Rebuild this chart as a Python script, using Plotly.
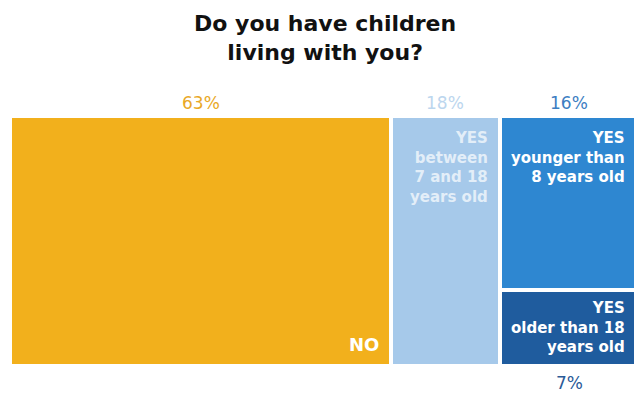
import plotly.graph_objects as go

# ─── Data ────────────────────────────────────────────────────────────────────
groups = ["NO", "YES 7-18", "YES <8", "YES >18"]
shares = [63, 18, 16, 7]
column = [0, 1, 2, 2]          # which column of the mosaic each group sits in
inner_text = [
    "NO",
    "YES<br>between<br>7 and 18<br>years old",
    "YES<br>younger than<br>8 years old",
    "YES<br>older than 18<br>years old",
]
pct_labels = ["63%", "18%", "16%", "7%"]

# ─── Styles ──────────────────────────────────────────────────────────────────
FILL = ["#F2B01C", "#A6C9EA", "#2E87D1", "#1F5C9E"]
PCT_COLOR = ["#E9A826", "#BCD6EE", "#3C7EC2", "#2A5A97"]
TEXT_COLOR = ["white", "rgba(255,255,255,0.7)", "white", "white"]
TEXT_SHIFT = [(-10, 9), (-10, -11), (-12, -11), (-12, -7)]
FONT = "'DejaVu Sans', sans-serif"

# column widths and positions from the data
n_cols = max(column) + 1
col_total = [sum(s for s, c in zip(shares, column) if c == k) for k in range(n_cols)]
col_left = [sum(col_total[:k]) for k in range(n_cols)]

fig = go.Figure()
annotations = []
for i, (g, s, c) in enumerate(zip(groups, shares, column)):
    width = col_total[c]
    x_mid = col_left[c] + width / 2
    # later groups in a column stack underneath earlier ones
    below = sum(shares[j] for j in range(i + 1, len(shares)) if column[j] == c)
    base = below / width
    height = s / width
    fig.add_trace(go.Bar(
        x=[x_mid], y=[height], base=[base], width=[width],
        marker=dict(color=FILL[i], line=dict(color="white", width=4)),
        name=g, showlegend=False, hoverinfo="skip",
    ))

    # text inside the box
    dx, dy = TEXT_SHIFT[i]
    if g == "NO":
        annotations.append(dict(
            x=col_left[c] + width, y=base, xref="x", yref="y",
            xanchor="right", yanchor="bottom", xshift=dx, yshift=dy,
            text="<b>%s</b>" % inner_text[i], showarrow=False, align="right",
            font=dict(family=FONT, size=18, color=TEXT_COLOR[i]),
        ))
    else:
        annotations.append(dict(
            x=col_left[c] + width, y=base + height, xref="x", yref="y",
            xanchor="right", yanchor="top", xshift=dx, yshift=dy,
            text="<b>%s</b>" % inner_text[i], showarrow=False, align="right",
            font=dict(family=FONT, size=15, color=TEXT_COLOR[i]),
        ))

    # percentage above (or below for the bottom box of a column)
    top = base + height >= 0.999
    annotations.append(dict(
        x=x_mid, y=1 if top else 0, xref="x", yref="y",
        xanchor="center", yanchor="bottom" if top else "top",
        yshift=1 if top else -5,
        text=pct_labels[i], showarrow=False,
        font=dict(family=FONT, size=17, color=PCT_COLOR[i]),
    ))

annotations.append(dict(
    x=0.5, y=1, xref="paper", yref="paper", yanchor="bottom", yshift=49,
    text="<b>Do you have children<br>living with you?</b>", showarrow=False,
    font=dict(family=FONT, size=22, color="#111111"),
))

# the page body adds an 8px offset, margins compensate for it
fig.update_layout(
    width=642, height=408,
    paper_bgcolor="white", plot_bgcolor="white",
    margin=dict(l=2, r=11, t=108, b=50),
    barmode="overlay", bargap=0,
    xaxis=dict(range=[0, sum(col_total)], visible=False, fixedrange=True),
    yaxis=dict(range=[0, 1], visible=False, fixedrange=True),
    annotations=annotations,
)

fig.write_html("out.html")
